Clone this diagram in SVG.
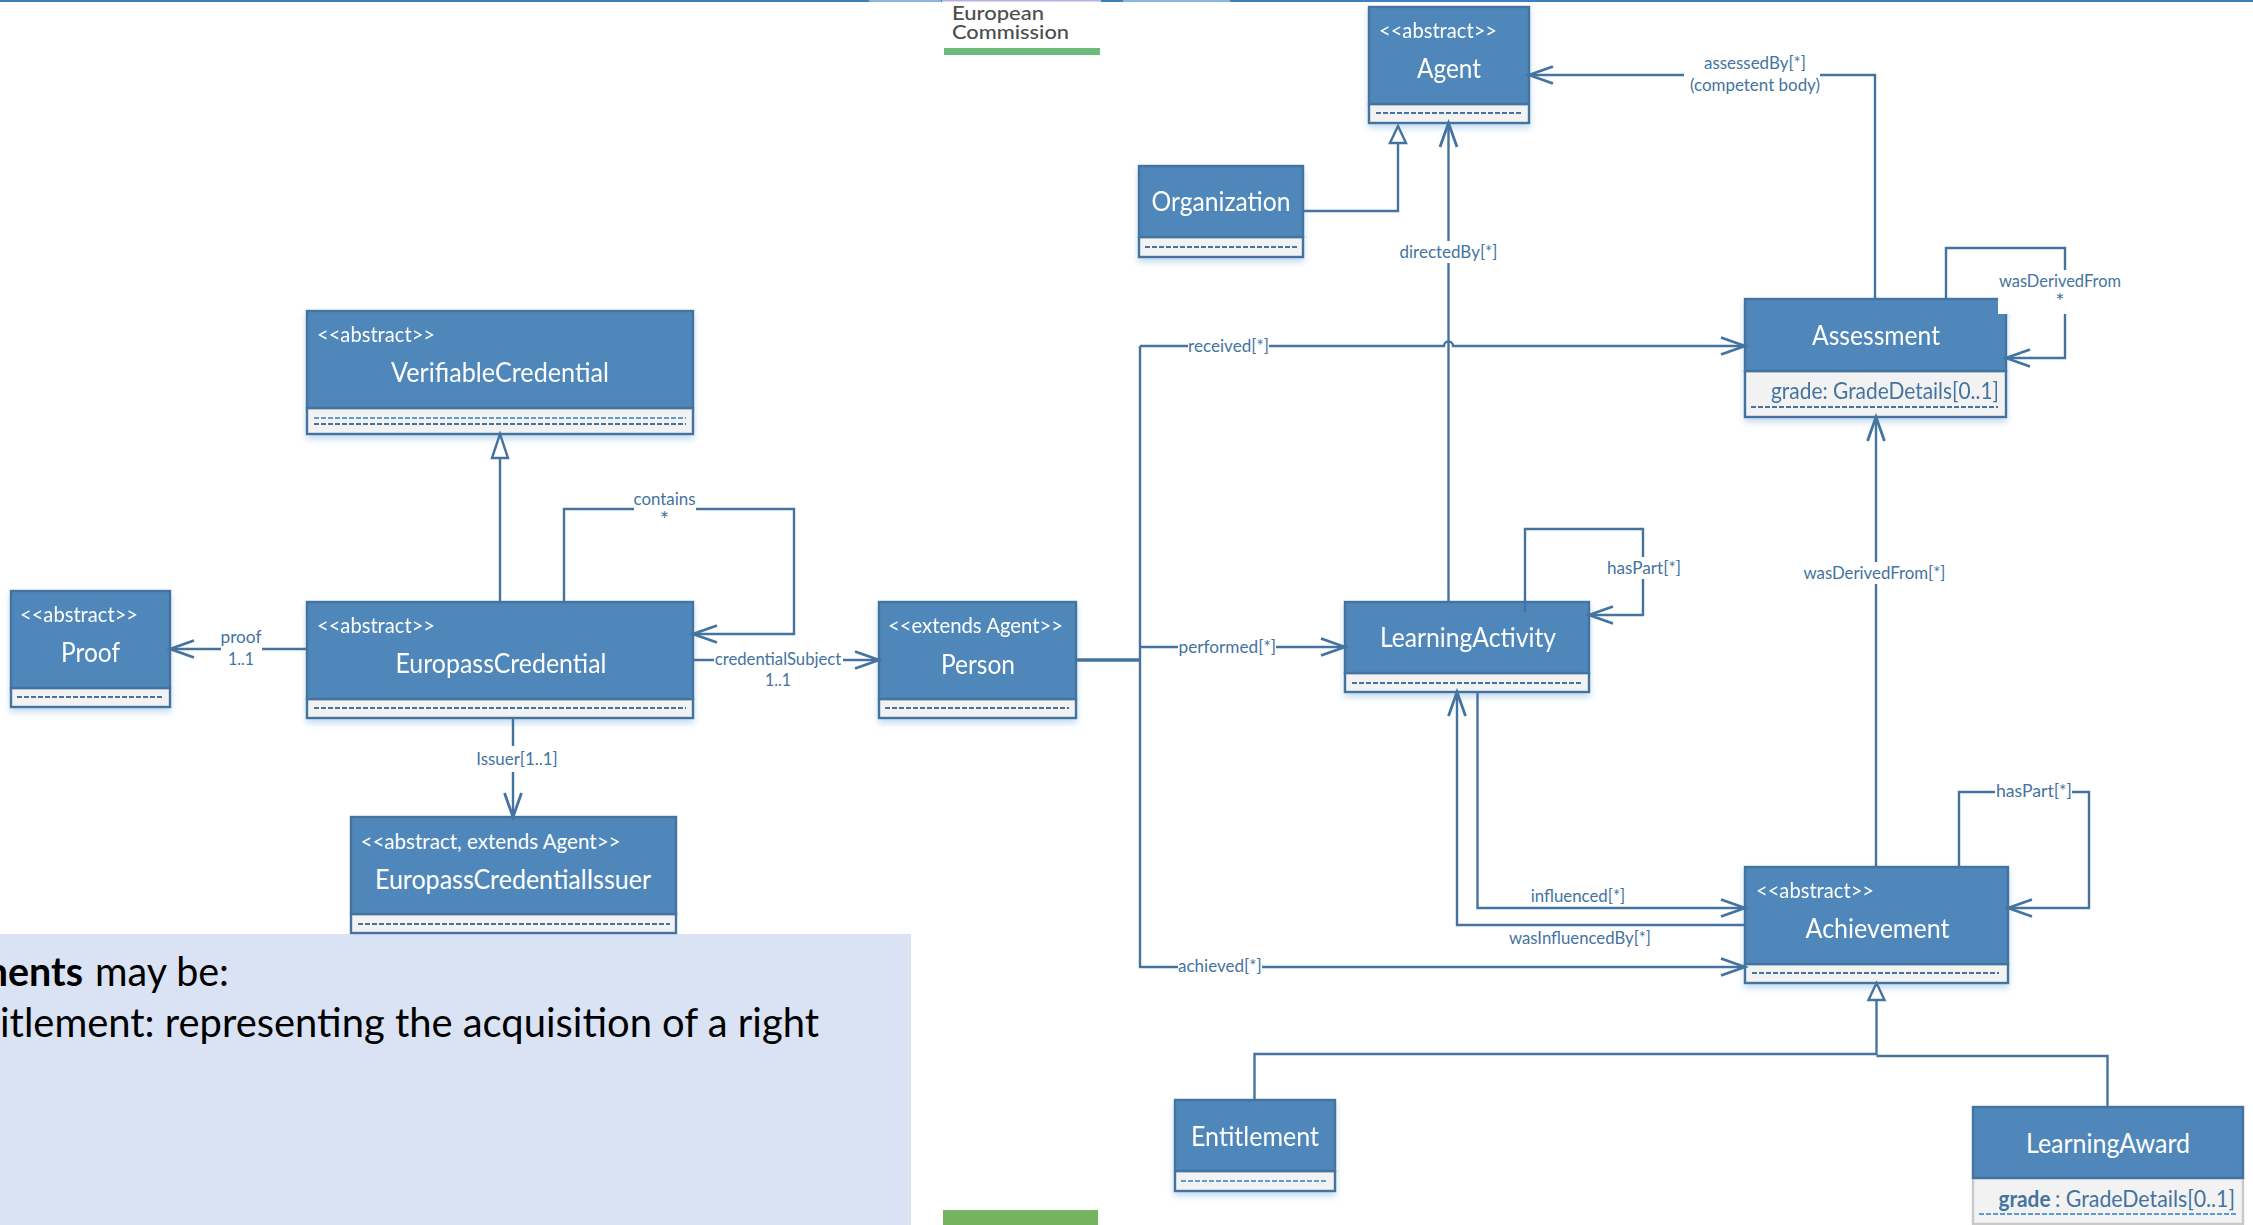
<svg xmlns="http://www.w3.org/2000/svg" width="2253" height="1225" viewBox="0 0 2253 1225">
<style>
text{font-family:Lato,"Liberation Sans",sans-serif}
.h{fill:#4f87ba;stroke:#44739f;stroke-width:2.4}
.c{fill:#f2f2f2;stroke:#44739f;stroke-width:2.4}
.d{fill:none;stroke:#44739f;stroke-width:2.2;stroke-dasharray:5 2}
.dl{fill:none;stroke:#5b9bd5;stroke-width:2.2;stroke-dasharray:5 2}
.st{fill:#fff;font-size:21.5px;transform:translateY(1px)}
.nm{fill:#fff;font-size:26px;text-anchor:middle;transform:translateY(1.3px)}
.at{fill:#44739f;font-size:22.5px;transform:translateY(1px)}
.lb{fill:#44739f;font-size:17.5px;text-anchor:middle}
.star{fill:#44739f;font-size:21px;text-anchor:middle}
.bg{fill:#fff}
.l{fill:none;stroke:#44739f;stroke-width:2.4}
.oa{marker-end:url(#open)}
.ga{marker-end:url(#tri)}
.gl{marker-end:url(#trilong)}
.body{fill:#000;font-size:40px;transform:translateY(1.5px)}
</style>
<defs>
<filter id="sh" x="-10%" y="-10%" width="120%" height="130%"><feDropShadow dx="0" dy="4" stdDeviation="3" flood-color="#5b9bd5" flood-opacity="0.35"/></filter>
<marker id="open" markerUnits="userSpaceOnUse" markerWidth="30" markerHeight="24" refX="26" refY="12" orient="auto"><path d="M2,3.5 L26,12 L2,20.5" fill="none" stroke="#44739f" stroke-width="2.8"/></marker>
<marker id="tri" markerUnits="userSpaceOnUse" markerWidth="24" markerHeight="24" refX="21" refY="12" orient="auto"><path d="M4,4 L21,12 L4,20 Z" fill="#fff" stroke="#44739f" stroke-width="2.4"/></marker>
<marker id="trilong" markerUnits="userSpaceOnUse" markerWidth="30" markerHeight="24" refX="27" refY="12" orient="auto"><path d="M3,4 L27,12 L3,20 Z" fill="#fff" stroke="#44739f" stroke-width="2.4"/></marker>
</defs>
<rect width="2253" height="1225" fill="#fff"/>

<g id="top-bar">
<rect x="0" y="0" width="2253" height="2" fill="#3f81bf"/>
<rect x="869" y="0" width="72" height="2" fill="#8fb4d9"/>
<rect x="1123" y="0" width="107" height="2" fill="#8fb4d9"/>
</g>
<g id="logo">
<rect x="942" y="0" width="159" height="56" fill="#fff"/>
<rect x="942" y="0" width="159" height="1.5" fill="#b8b0e0"/>
<rect x="944" y="48" width="156" height="7" fill="#6fbb7e"/>
<text x="952" y="20" font-size="19.5" font-weight="500" fill="#4d4d4d" textLength="92" lengthAdjust="spacingAndGlyphs">European</text>
<text x="952" y="39" font-size="19.5" font-weight="500" fill="#4d4d4d" textLength="117" lengthAdjust="spacingAndGlyphs">Commission</text>
</g>
<rect id="bottom-green" x="943" y="1210" width="155" height="15" fill="#74b45e"/>

<g id="note">
<rect x="0" y="934" width="911" height="291" fill="#dae3f3"/>
<text class="body" y="984"><tspan x="-25" font-weight="700" textLength="108" lengthAdjust="spacingAndGlyphs">ments</tspan><tspan x="95" textLength="134" lengthAdjust="spacingAndGlyphs">may be:</tspan></text>
<text class="body" x="0" y="1035" textLength="819" lengthAdjust="spacingAndGlyphs">itlement: representing the acquisition of a right</text>
</g>

<g id="node-agent" filter="url(#sh)">
<rect class="c" x="1369" y="104" width="160" height="19"/>
<rect class="h" x="1369" y="7" width="160" height="97"/>
<path class="d" d="M1376,113H1522"/>
<text class="st" x="1379" y="37" textLength="118" lengthAdjust="spacingAndGlyphs">&lt;&lt;abstract&gt;&gt;</text>
<text class="nm" x="1449" y="77" textLength="64" lengthAdjust="spacingAndGlyphs">Agent</text>
</g>
<g id="node-organization" filter="url(#sh)">
<rect class="c" x="1139" y="237" width="164" height="20"/>
<rect class="h" x="1139" y="166" width="164" height="71"/>
<path class="d" d="M1145,247H1297"/>
<text class="nm" x="1221" y="210" textLength="139" lengthAdjust="spacingAndGlyphs">Organization</text>
</g>
<g id="node-assessment" filter="url(#sh)">
<rect class="c" x="1745" y="371" width="261" height="46"/>
<rect class="h" x="1745" y="299" width="261" height="72"/>
<path class="d" d="M1751,407H1998"/>
<text class="nm" x="1876" y="344" textLength="128" lengthAdjust="spacingAndGlyphs">Assessment</text>
<text class="at" x="1771" y="398" textLength="228" lengthAdjust="spacingAndGlyphs">grade: GradeDetails[0..1]</text>
</g>
<g id="node-verifiablecredential" filter="url(#sh)">
<rect class="c" x="307" y="408" width="386" height="26"/>
<rect class="h" x="307" y="311" width="386" height="97"/>
<path class="dl" d="M314,418H686"/>
<path class="d" d="M314,424H686"/>
<text class="st" x="317" y="341" textLength="118" lengthAdjust="spacingAndGlyphs">&lt;&lt;abstract&gt;&gt;</text>
<text class="nm" x="500" y="381" textLength="218" lengthAdjust="spacingAndGlyphs">VerifiableCredential</text>
</g>
<g id="node-europasscredential" filter="url(#sh)">
<rect class="c" x="307" y="699" width="386" height="19"/>
<rect class="h" x="307" y="602" width="386" height="97"/>
<path class="d" d="M314,708H686"/>
<text class="st" x="317" y="632" textLength="118" lengthAdjust="spacingAndGlyphs">&lt;&lt;abstract&gt;&gt;</text>
<text class="nm" x="501" y="672" textLength="211" lengthAdjust="spacingAndGlyphs">EuropassCredential</text>
</g>
<g id="node-proof" filter="url(#sh)">
<rect class="c" x="11" y="688" width="159" height="19"/>
<rect class="h" x="11" y="591" width="159" height="97"/>
<path class="d" d="M17,697H163"/>
<text class="st" x="20" y="621" textLength="118" lengthAdjust="spacingAndGlyphs">&lt;&lt;abstract&gt;&gt;</text>
<text class="nm" x="90.500" y="661" textLength="59" lengthAdjust="spacingAndGlyphs">Proof</text>
</g>
<g id="node-person" filter="url(#sh)">
<rect class="c" x="879" y="699" width="197" height="19"/>
<rect class="h" x="879" y="602" width="197" height="97"/>
<path class="d" d="M885,708H1069"/>
<text class="st" x="888" y="632" textLength="175" lengthAdjust="spacingAndGlyphs">&lt;&lt;extends Agent&gt;&gt;</text>
<text class="nm" x="978" y="673" textLength="74" lengthAdjust="spacingAndGlyphs">Person</text>
</g>
<g id="node-europasscredentialissuer">
<rect class="c" x="351" y="914" width="325" height="19"/>
<rect class="h" x="351" y="817" width="325" height="97"/>
<path class="d" d="M358,924H670"/>
<text class="st" x="360.500" y="848" textLength="260" lengthAdjust="spacingAndGlyphs">&lt;&lt;abstract, extends Agent&gt;&gt;</text>
<text class="nm" x="513" y="888" textLength="276" lengthAdjust="spacingAndGlyphs">EuropassCredentialIssuer</text>
</g>
<g id="node-learningactivity" filter="url(#sh)">
<rect class="c" x="1345" y="673" width="244" height="19"/>
<rect class="h" x="1345" y="602" width="244" height="71"/>
<path class="d" d="M1352,683H1582"/>
<text class="nm" x="1468" y="646" textLength="176" lengthAdjust="spacingAndGlyphs">LearningActivity</text>
</g>
<g id="node-achievement" filter="url(#sh)">
<rect class="c" x="1745" y="964" width="263" height="19"/>
<rect class="h" x="1745" y="867" width="263" height="97"/>
<path class="d" d="M1752,973H1999"/>
<text class="st" x="1756" y="897" textLength="118" lengthAdjust="spacingAndGlyphs">&lt;&lt;abstract&gt;&gt;</text>
<text class="nm" x="1877.500" y="937" textLength="144" lengthAdjust="spacingAndGlyphs">Achievement</text>
</g>
<g id="node-entitlement" filter="url(#sh)">
<rect class="c" x="1175" y="1171" width="160" height="20"/>
<rect class="h" x="1175" y="1100" width="160" height="71"/>
<path class="dl" d="M1181,1181H1328"/>
<text class="nm" x="1255" y="1145" textLength="128" lengthAdjust="spacingAndGlyphs">Entitlement</text>
</g>
<g id="node-learningaward">
<rect class="c" x="1973" y="1178" width="270" height="46" style="stroke:#c9c9c9"/>
<rect class="h" x="1973" y="1107" width="270" height="71"/>
<path class="dl" d="M1979,1214H2236"/>
<text class="nm" x="2108" y="1152" textLength="164" lengthAdjust="spacingAndGlyphs">LearningAward</text>
<text class="at" y="1206"><tspan x="1998.500" font-weight="700" textLength="52" lengthAdjust="spacingAndGlyphs">grade</tspan><tspan x="2055" textLength="180" lengthAdjust="spacingAndGlyphs">: GradeDetails[0..1]</tspan></text>
</g>

<g id="connectors">
<path class="l oa" d="M1875,299V75H1529"/>
<path class="l oa" d="M1448.500,602V123"/>
<path class="l ga" d="M1303,211H1398V126"/>
<path class="l oa" d="M1946,299V248H2065V358H2006"/>
<path class="l gl" d="M500,602V434"/>
<path class="l oa" d="M564,602V509H794V634H693"/>
<path class="l oa" d="M307,649H170"/>
<path class="l oa" d="M693,660H879"/>
<path class="l oa" d="M513,718V817"/>
<path d="M1076,660H1140" fill="none" stroke="#44739f" stroke-width="3.400"/>
<path class="l" d="M1140,660V346"/>
<path class="l oa" d="M1140,346H1444A4.500,4.500 0 0 1 1453,346H1745"/>
<path class="l oa" d="M1140,647H1345"/>
<path class="l oa" d="M1140,660V967H1745"/>
<path class="l oa" d="M1525,612V529H1643V615H1589"/>
<path class="l oa" d="M1477.500,692V908H1745"/>
<path class="l oa" d="M1745,925H1457V692"/>
<path class="l oa" d="M1876,867V417"/>
<path class="l oa" d="M1959,867V792H2089V908H2008"/>
<path class="l ga" d="M1876.500,1055V983"/>
<path class="l" d="M1876.500,1054H1254.500V1100"/>
<path class="l" d="M1876.500,1056H2107.500V1107"/>
</g>

<g id="labels">
<rect class="bg" x="1684" y="54" width="136" height="42"/>
<text class="lb" x="1755" y="69" textLength="102" lengthAdjust="spacingAndGlyphs">assessedBy[*]</text>
<text class="lb" x="1755" y="91" textLength="130" lengthAdjust="spacingAndGlyphs">(competent body)</text>
<rect class="bg" x="1399" y="241" width="99" height="22"/>
<text class="lb" x="1448.500" y="258" textLength="98" lengthAdjust="spacingAndGlyphs">directedBy[*]</text>
<rect class="bg" x="1998" y="270" width="124" height="44"/>
<text class="lb" x="2060" y="287" textLength="122" lengthAdjust="spacingAndGlyphs">wasDerivedFrom</text>
<text class="star" x="2060" y="309">*</text>
<rect class="bg" x="634" y="496" width="62" height="29"/>
<text class="lb" x="664.500" y="505" textLength="62" lengthAdjust="spacingAndGlyphs">contains</text>
<text class="star" x="664.500" y="527">*</text>
<rect class="bg" x="221" y="630" width="41" height="38"/>
<text class="lb" x="241" y="643" textLength="41" lengthAdjust="spacingAndGlyphs">proof</text>
<text class="lb" x="241" y="665" textLength="26" lengthAdjust="spacingAndGlyphs">1..1</text>
<rect class="bg" x="714" y="650" width="129" height="20"/>
<text class="lb" x="778" y="665" textLength="126.500" lengthAdjust="spacingAndGlyphs">credentialSubject</text>
<text class="lb" x="778" y="686" textLength="26" lengthAdjust="spacingAndGlyphs">1..1</text>
<rect class="bg" x="476" y="746" width="82" height="26"/>
<text class="lb" x="517" y="765" textLength="81.500" lengthAdjust="spacingAndGlyphs">Issuer[1..1]</text>
<rect class="bg" x="1188" y="336" width="81" height="20"/>
<text class="lb" x="1228.500" y="352" textLength="81" lengthAdjust="spacingAndGlyphs">received[*]</text>
<rect class="bg" x="1178" y="637" width="98" height="20"/>
<text class="lb" x="1227.300" y="653" textLength="97.400" lengthAdjust="spacingAndGlyphs">performed[*]</text>
<rect class="bg" x="1178" y="957" width="84" height="20"/>
<text class="lb" x="1219.800" y="972" textLength="83.600" lengthAdjust="spacingAndGlyphs">achieved[*]</text>
<rect class="bg" x="1607" y="557" width="74" height="22"/>
<text class="lb" x="1644" y="574" textLength="74" lengthAdjust="spacingAndGlyphs">hasPart[*]</text>
<rect class="bg" x="1803" y="562" width="142" height="22"/>
<text class="lb" x="1874.500" y="579" textLength="142" lengthAdjust="spacingAndGlyphs">wasDerivedFrom[*]</text>
<text class="lb" x="1578" y="902" textLength="94.400" lengthAdjust="spacingAndGlyphs">influenced[*]</text>
<text class="lb" x="1580" y="944" textLength="142" lengthAdjust="spacingAndGlyphs">wasInfluencedBy[*]</text>
<rect class="bg" x="1995" y="782" width="77" height="20"/>
<text class="lb" x="2034" y="797" textLength="76" lengthAdjust="spacingAndGlyphs">hasPart[*]</text>
</g>
</svg>
